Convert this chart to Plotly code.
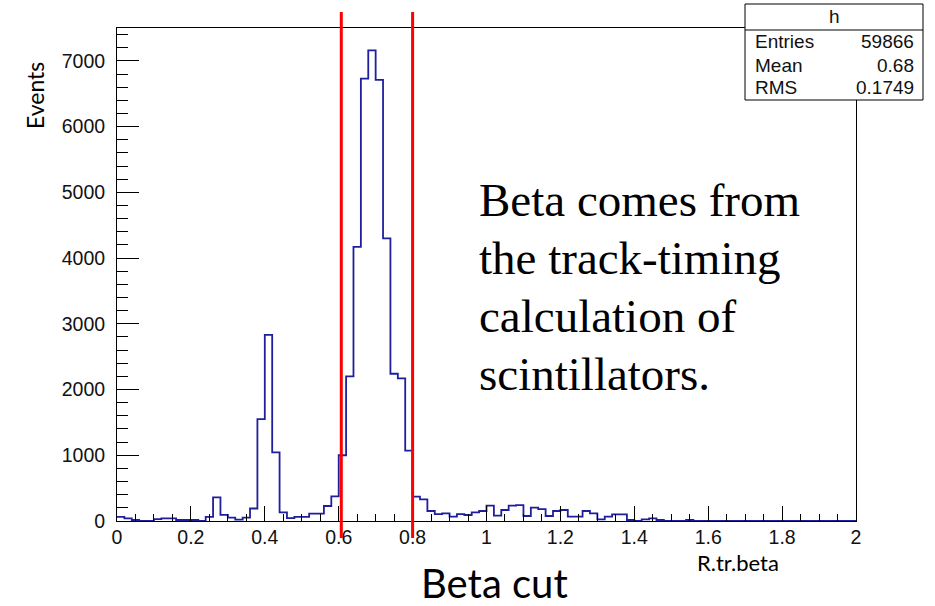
import plotly.graph_objects as go

# Histogram of R.tr.beta: 100 bins of width 0.02 between 0 and 2
bin_width = 0.02
n_bins = 100
counts = [
    62, 41, 15, 0, 0, 30, 40, 40, 15, 15,
    15, 0, 62, 359, 92, 51, 20, 51, 190, 1550,
    2830, 1045, 132, 45, 64, 64, 112, 112, 228, 374,
    1000, 2200, 4170, 6730, 7160, 6710, 4300, 2240, 2170, 1070,
    370, 330, 152, 106, 117, 66, 106, 91, 132, 152,
    233, 81, 167, 233, 243, 76, 203, 182, 76, 152,
    167, 66, 66, 152, 117, 25, 66, 101, 101, 15,
    0, 25, 40, 15, 0, 0, 0, 15, 0, 0,
    0, 0, 0, 0, 0, 0, 0, 0, 0, 0,
    0, 0, 0, 0, 0, 0, 0, 0, 0, 0,
]
edges = [round(i * bin_width, 4) for i in range(n_bins + 1)]

# Cut positions on beta
cut_low = 0.607
cut_high = 0.8

# Statistics box contents
stats_title = "h"
stats_rows = [("Entries", "59866"), ("Mean", "0.68"), ("RMS", "0.1749")]

x_ticks = [0, 0.2, 0.4, 0.6, 0.8, 1, 1.2, 1.4, 1.6, 1.8, 2]
y_ticks = [0, 1000, 2000, 3000, 4000, 5000, 6000, 7000]

note_lines = ["Beta comes from", "the track-timing", "calculation of", "scintillators."]

W, H = 935, 606
ML, MR, MT, MB = 117, 79, 28, 85
PW, PH = W - ML - MR, H - MT - MB


def px_x(p):
    return (p - ML) / PW


def px_y(p):
    return 1 - (p - MT) / PH


fig = go.Figure()
fig.add_trace(go.Scatter(
    x=edges,
    y=counts + [counts[-1]],
    mode="lines",
    line=dict(shape="hv", color="#1f1f9e", width=1.8),
    hoverinfo="skip",
    showlegend=False,
))

tick_font = dict(family="Liberation Sans, Arial, sans-serif", size=19.5, color="#111111")

fig.update_layout(
    width=W, height=H,
    margin=dict(l=ML, r=MR, t=MT, b=MB),
    paper_bgcolor="white",
    plot_bgcolor="white",
    showlegend=False,
    xaxis=dict(
        range=[0, 2],
        tickvals=x_ticks,
        ticktext=[f"{v:g}" for v in x_ticks],
        ticks="inside", ticklen=15, tickwidth=1, tickcolor="black",
        minor=dict(dtick=0.05, tick0=0, ticks="inside", ticklen=7, tickwidth=1, tickcolor="black"),
        showline=True, linecolor="black", linewidth=1, mirror=True,
        showgrid=False, zeroline=False,
        tickfont=tick_font, ticklabelstandoff=-1,
    ),
    yaxis=dict(
        range=[0, 7500],
        tickvals=y_ticks,
        ticktext=[str(v) for v in y_ticks],
        ticks="inside", ticklen=22, tickwidth=1, tickcolor="black",
        minor=dict(dtick=200, tick0=0, ticks="inside", ticklen=11, tickwidth=1, tickcolor="black"),
        showline=True, linecolor="black", linewidth=1, mirror=True,
        showgrid=False, zeroline=False,
        tickfont=tick_font, ticklabelstandoff=7,
    ),
)

shapes = []
# Red cut lines
for xc in (cut_low, cut_high):
    shapes.append(dict(type="line", xref="x", yref="paper", x0=xc, x1=xc,
                       y0=px_y(538), y1=px_y(12), line=dict(color="#ff0000", width=3),
                       layer="above"))
# Statistics box
bx0, bx1, by0, by1, bsep = 745, 923, 4, 100, 30
shapes.append(dict(type="rect", xref="paper", yref="paper",
                   x0=px_x(bx0), x1=px_x(bx1), y0=px_y(by1), y1=px_y(by0),
                   fillcolor="white", line=dict(color="black", width=1), layer="above"))
shapes.append(dict(type="line", xref="paper", yref="paper",
                   x0=px_x(bx0), x1=px_x(bx1), y0=px_y(bsep), y1=px_y(bsep),
                   line=dict(color="black", width=1), layer="above"))
fig.update_layout(shapes=shapes)

stats_font = dict(family="Liberation Sans, Arial, sans-serif", size=19, color="#111111")
ann = []
ann.append(dict(text=stats_title, x=px_x((bx0 + bx1) / 2), y=px_y(17), xref="paper", yref="paper",
                showarrow=False, xanchor="center", yanchor="middle", font=stats_font))
for i, (k, v) in enumerate(stats_rows):
    yy = px_y(42 + i * 23)
    ann.append(dict(text=k, x=px_x(753), y=yy, xref="paper", yref="paper", showarrow=False,
                    xanchor="left", yanchor="middle", font=stats_font))
    ann.append(dict(text=v, x=px_x(916), y=yy, xref="paper", yref="paper", showarrow=False,
                    xanchor="right", yanchor="middle", font=stats_font))

# Axis titles
label_font = "Lato, Open Sans, sans-serif"
ann.append(dict(text="Events", x=px_x(35), y=px_y(96), xref="paper", yref="paper",
                showarrow=False, textangle=-90, xanchor="center", yanchor="middle",
                font=dict(family=label_font, size=23, color="black")))
ann.append(dict(text="R.tr.beta", x=px_x(738), y=px_y(562), xref="paper", yref="paper",
                showarrow=False, xanchor="center", yanchor="middle",
                font=dict(family=label_font, size=22, color="black")))
ann.append(dict(text="Beta cut", x=px_x(494), y=px_y(583), xref="paper", yref="paper",
                showarrow=False, xanchor="center", yanchor="middle",
                font=dict(family=label_font, size=40, color="black")))

# Explanatory note
for i, line in enumerate(note_lines):
    ann.append(dict(text=line, x=px_x(477), y=px_y(200 + i * 58), xref="paper", yref="paper",
                    showarrow=False, xanchor="left", yanchor="middle",
                    font=dict(family="Liberation Serif, Times New Roman, serif", size=47, color="black")))

fig.update_layout(annotations=ann)

fig.write_html("out.html")
